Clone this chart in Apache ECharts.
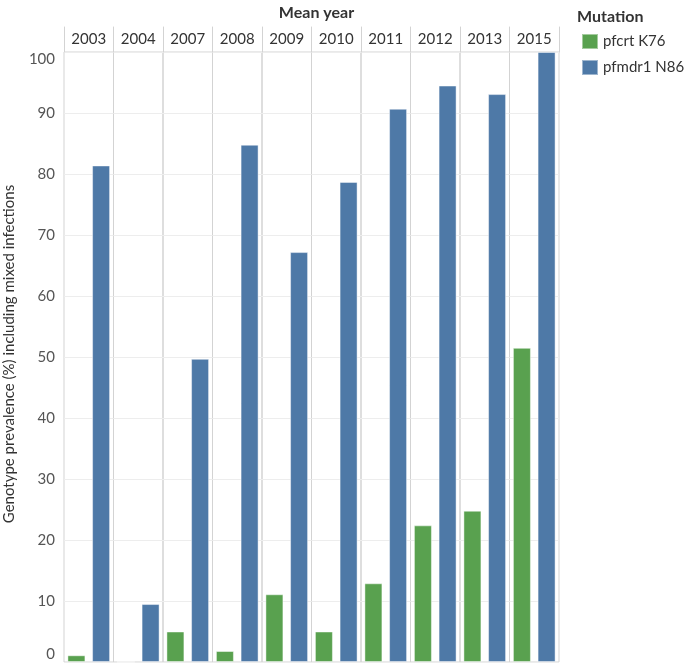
<!DOCTYPE html>
<html>
<head>
<meta charset="utf-8">
<script src="https://cdn.jsdelivr.net/npm/echarts@6/dist/echarts.min.js"></script>
<style>
html,body{margin:0;padding:0;background:#fff;}
#chart{width:685px;height:665px;}
</style>
</head>
<body>
<div id="chart"></div>
<script>
var years = ['2003','2004','2007','2008','2009','2010','2011','2012','2013','2015'];
var pfcrtK76 = [1.1, 0, 5.0, 1.8, 11.1, 5.0, 12.9, 22.4, 24.8, 51.5];
var pfmdr1N86 = [81.4, 9.5, 49.7, 84.8, 67.2, 78.7, 90.7, 94.5, 93.1, 100];
var yTicks = {min: 0, max: 100, interval: 10};
var seriesNames = ['pfcrt K76', 'pfmdr1 N86'];
var colors = ['#59a14f', '#4e79a7'];
var yTitle = 'Genotype prevalence (%) including mixed infections';

var FONT = 'Lato, "Open Sans", sans-serif';
var panelLeft = 64, panelW = 49.5, panelTop = 52, panelBottom = 3, headerTop = 27;
var divider = '#d3d3d3';

var grids = [], xAxes = [], yAxes = [], series = [];
years.forEach(function (yr, i) {
  var left = panelLeft + i * panelW;
  grids.push({left: left, width: panelW, top: panelTop, bottom: panelBottom,
    show: true, borderColor: divider, borderWidth: 1, backgroundColor: 'transparent'});
  grids.push({left: left, width: panelW, top: headerTop, height: panelTop - headerTop,
    show: false});
  var gi = grids.length - 2, hi = grids.length - 1;
  xAxes.push({gridIndex: gi, type: 'category', data: [yr], position: 'top',
    axisLine: {show: false}, axisTick: {show: false},
    axisLabel: {show: true, margin: 5, color: '#333', fontSize: 15, fontFamily: FONT}});
  xAxes.push({gridIndex: hi, type: 'category', data: [yr], show: false});
  yAxes.push({gridIndex: gi, type: 'value', min: yTicks.min, max: yTicks.max, interval: yTicks.interval,
    axisLine: {show: false}, axisTick: {show: false},
    splitLine: {show: true, lineStyle: {color: '#ededed', width: 1}},
    axisLabel: {show: i === 0, color: '#555', fontSize: 15, fontFamily: FONT, margin: 9,
      verticalAlignMinLabel: 'bottom', verticalAlignMaxLabel: 'top'}
  });
  yAxes.push({gridIndex: hi, type: 'value', min: 0, max: 1,
    axisLine: {show: true, lineStyle: {color: divider, width: 1}},
    axisTick: {show: false}, axisLabel: {show: false}, splitLine: {show: false}});
  if (i === years.length - 1) {
    yAxes.push({gridIndex: hi, type: 'value', min: 0, max: 1, position: 'right',
      axisLine: {show: true, lineStyle: {color: divider, width: 1}},
      axisTick: {show: false}, axisLabel: {show: false}, splitLine: {show: false}});
  }
  var xi = xAxes.length - 2;
  var yi = yAxes.length - (i === years.length - 1 ? 3 : 2);
  series.push({name: seriesNames[0], type: 'bar', xAxisIndex: xi, yAxisIndex: yi,
    data: [pfcrtK76[i]], barWidth: 18, barGap: '37%',
    itemStyle: {color: colors[0], borderColor: 'rgba(255,255,255,0.45)', borderWidth: 1}});
  series.push({name: seriesNames[1], type: 'bar', xAxisIndex: xi, yAxisIndex: yi,
    data: [pfmdr1N86[i]], barWidth: 18, barGap: '37%',
    itemStyle: {color: colors[1], borderColor: 'rgba(255,255,255,0.45)', borderWidth: 1}});
});

var chart = echarts.init(document.getElementById('chart'), null, {renderer: 'canvas'});
chart.setOption({
  animation: false,
  color: colors,
  title: [
    {text: 'Mean year', left: panelLeft + panelW * years.length / 2, top: 0, textAlign: 'center',
      textStyle: {fontSize: 16, fontWeight: 'bold', color: '#333', fontFamily: FONT}},
    {text: 'Mutation', left: 572, top: 4,
      textStyle: {fontSize: 16, fontWeight: 'bold', color: '#333', fontFamily: FONT}}
  ],
  legend: {data: seriesNames, orient: 'vertical', left: 576, top: 28,
    icon: 'rect', itemWidth: 16, itemHeight: 15, itemGap: 9,
    textStyle: {fontSize: 15, color: '#333', fontFamily: FONT}},
  graphic: [{type: 'text', x: 9, y: 354, rotation: Math.PI / 2,
    style: {text: yTitle, align: 'center', verticalAlign: 'middle',
      fontSize: 15, fill: '#333', fontFamily: FONT}}],
  grid: grids,
  xAxis: xAxes,
  yAxis: yAxes,
  series: series
});
</script>
</body>
</html>
